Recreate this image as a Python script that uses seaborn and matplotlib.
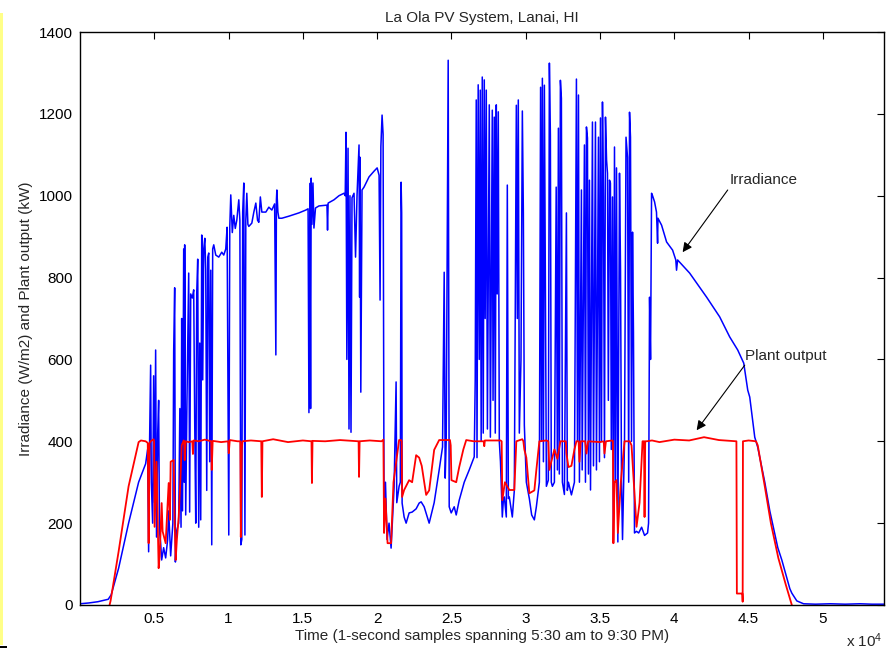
import numpy as np
import pandas as pd
import matplotlib
matplotlib.use("Agg")
import matplotlib.pyplot as plt
import seaborn as sns
from matplotlib.patches import Rectangle

# irradiance (W/m2) vs time (s)
irr_t = [0, 600, 1200, 1900, 2100, 2600, 3270, 3945, 4417, 4550, 4619, 4680, 4754, 4800, 4890, 4956,
         5020, 5091, 5150, 5230, 5293, 5350, 5430, 5496, 5630, 5765, 5900, 5968, 6102, 6250, 6305, 6372,
         6420, 6500, 6642, 6720, 6800, 6844, 6900, 6979, 7020, 7046, 7114, 7200, 7316, 7380, 7451, 7560,
         7653, 7720, 7790, 7856, 7923, 7990, 8060, 8125, 8193, 8260, 8328, 8400, 8463, 8530, 8600, 8665,
         8730, 8800, 8867, 8930, 9002, 9137, 9339, 9541, 9676, 9811, 9900, 10013, 10080, 10148, 10250, 10350,
         10450, 10553, 10688, 10760, 10823, 10890, 10950, 11025, 11100, 11160, 11227, 11300, 11362, 11564, 11700, 11834,
         11950, 12036, 12138, 12238, 12508, 12710, 12913, 13100, 13182, 13220, 13250, 13320, 13385, 13587, 14059, 14733,
         15200, 15350, 15408, 15470, 15520, 15560, 15610, 15680, 15745, 15850, 16082, 16622, 16660, 16700, 17094, 17431,
         17768, 17850, 17903, 17960, 18040, 18105, 18170, 18240, 18308, 18443, 18545, 18645, 18780, 18820, 18847, 18900,
         18982, 19117, 19454, 19791, 20000, 20129, 20196, 20250, 20331, 20400, 20466, 20560, 20668, 20800, 20938, 21050,
         21140, 21275, 21320, 21477, 21560, 21612, 21650, 21680, 21815, 21950, 22152, 22354, 22624, 22826, 22961, 23163,
         23500, 23837, 24174, 24400, 24512, 24580, 24647, 24781, 24849, 24984, 25186, 25321, 25523, 25860, 26197, 26534,
         26600, 26669, 26720, 26800, 26872, 26940, 27000, 27074, 27140, 27209, 27270, 27344, 27420, 27546, 27620, 27749,
         27800, 27883, 27950, 28018, 28080, 28153, 28221, 28300, 28423, 28500, 28558, 28693, 28760, 28830, 28895, 29097,
         29232, 29367, 29434, 29500, 29569, 29680, 29772, 29840, 29906, 30041, 30243, 30400, 30580, 30715, 30917, 31000,
         31060, 31120, 31190, 31255, 31390, 31520, 31592, 31659, 31720, 31794, 31929, 32050, 32131, 32198, 32260, 32333,
         32400, 32468, 32603, 32738, 32800, 32873, 33075, 33277, 33412, 33480, 33550, 33614, 33749, 33800, 33951, 34020,
         34086, 34154, 34221, 34288, 34360, 34490, 34560, 34693, 34760, 34895, 34962, 35030, 35100, 35165, 35232, 35300,
         35367, 35440, 35502, 35560, 35637, 35700, 35760, 35839, 35900, 35974, 36040, 36109, 36200, 36311, 36380, 36446,
         36514, 36648, 36750, 36851, 36930, 36986, 37050, 37120, 37188, 37250, 37320, 37458, 37600, 37800, 37997, 38200,
         38267, 38334, 38400, 38469, 38536, 38671, 38800, 38874, 38900, 39143, 39480, 39885, 40100, 40150, 40222, 41031,
         42177, 43054, 43728, 44268, 44672, 44942, 45077, 45414, 45617, 46089, 46426, 46965, 47235, 47774, 47909, 48246,
         48700, 49500, 50500, 51500, 52500, 53300, 54113]
irr_w = [3, 5, 8, 14, 25, 90, 200, 300, 345, 380, 130, 390, 586, 300, 200, 560,
         250, 623, 166, 420, 500, 180, 150, 110, 140, 115, 160, 230, 120, 200, 620, 775,
         105, 180, 200, 480, 190, 700, 230, 870, 300, 880, 220, 500, 811, 227, 760, 750,
         770, 450, 200, 760, 845, 190, 640, 208, 904, 550, 870, 896, 820, 280, 850, 860,
         350, 818, 147, 870, 880, 855, 850, 862, 855, 870, 923, 171, 923, 1002, 910, 952,
         920, 940, 990, 940, 147, 160, 960, 1031, 171, 940, 1006, 930, 925, 933, 960, 982,
         940, 935, 997, 960, 960, 972, 965, 980, 611, 990, 1014, 960, 945, 945, 950, 958,
         965, 968, 470, 1030, 480, 1043, 930, 1031, 921, 970, 975, 977, 916, 982, 990, 1000,
         1006, 1000, 1155, 600, 1116, 430, 1000, 422, 995, 1006, 850, 1000, 1124, 752, 1094, 520,
         1014, 1021, 1046, 1060, 1068, 1050, 745, 1120, 1197, 1150, 191, 300, 160, 200, 139, 220,
         288, 545, 250, 290, 300, 1033, 958, 249, 215, 200, 225, 227, 235, 249, 252, 240,
         200, 250, 330, 386, 813, 310, 400, 1331, 240, 225, 240, 220, 256, 300, 330, 362,
         550, 1234, 360, 1271, 600, 1258, 400, 1290, 420, 1283, 700, 1258, 430, 1222, 410, 1209,
         500, 1192, 420, 1222, 760, 1205, 400, 350, 215, 260, 264, 215, 1026, 260, 264, 215,
         280, 1221, 700, 1234, 420, 600, 1207, 958, 440, 300, 260, 220, 208, 240, 300, 1265,
         400, 1287, 350, 1270, 290, 305, 1324, 1148, 300, 290, 300, 1021, 330, 1165, 320, 1282,
         1238, 300, 270, 958, 280, 300, 269, 300, 1285, 400, 1246, 300, 1014, 330, 1124, 300,
         1168, 1141, 320, 1038, 281, 1180, 340, 1180, 330, 1143, 350, 1190, 400, 1229, 997, 360,
         1192, 1087, 1055, 500, 1038, 1031, 380, 997, 151, 1119, 300, 1068, 154, 1055, 818, 300,
         160, 400, 1143, 1094, 300, 1204, 1143, 400, 911, 667, 176, 180, 176, 190, 170, 176,
         200, 752, 600, 1006, 1000, 985, 960, 884, 945, 928, 887, 867, 843, 818, 843, 811,
         752, 704, 655, 623, 591, 525, 508, 410, 385, 300, 230, 140, 110, 40, 29, 10,
         3, 2, 3, 2, 3, 2, 2]

# plant output (kW) vs time (s)
out_t = [1990, 2057, 2596, 3270, 3945, 4100, 4417, 4560, 4619, 4680, 4754, 4956, 4990, 5020, 5150, 5293,
         5360, 5496, 5560, 5765, 5900, 5968, 6050, 6102, 6305, 6372, 6440, 6520, 6642, 6750, 6844, 6979,
         7010, 7046, 7114, 7316, 7560, 7600, 7650, 7990, 8400, 8830, 8867, 8930, 9500, 9980, 10013, 10080,
         10600, 10790, 10823, 10890, 10930, 11500, 12200, 12238, 12280, 13000, 14000, 15000, 15580, 15610, 15650, 16500,
         17500, 18750, 18780, 18820, 19500, 20300, 20420, 20466, 20560, 20700, 20938, 21100, 21477, 21612, 21650, 21680,
         21815, 22152, 22354, 22624, 22826, 23000, 23298, 23500, 23837, 24174, 24900, 24950, 25000, 25321, 25523, 25800,
         25995, 26500, 27170, 27209, 27250, 28300, 28380, 28423, 28600, 28895, 29232, 29367, 29772, 29840, 29906, 30041,
         30243, 30580, 30715, 30917, 31390, 31520, 31592, 31720, 31929, 32131, 32333, 32700, 32738, 32873, 33075, 33277,
         33412, 33560, 33614, 33700, 34000, 34086, 34200, 35000, 35250, 35300, 35400, 35839, 35870, 35900, 35974, 36109,
         36200, 36400, 36648, 37000, 37120, 37458, 37660, 37862, 37960, 37997, 38040, 38132, 38500, 39000, 40000, 41000,
         42000, 43000, 44180, 44210, 44580, 44600, 44620, 45000, 45500, 45617, 46089, 46500, 47000, 47500, 47909]
out_kw = [0, 10, 130, 290, 398, 402, 400, 396, 151, 395, 400, 405, 400, 191, 350, 90,
          120, 249, 180, 151, 250, 298, 208, 350, 354, 200, 110, 160, 215, 300, 390, 402,
          400, 354, 400, 398, 400, 369, 402, 400, 404, 400, 330, 401, 398, 400, 371, 403,
          400, 400, 166, 380, 400, 402, 400, 264, 400, 405, 398, 402, 400, 298, 401, 400,
          403, 400, 313, 400, 402, 400, 404, 176, 260, 151, 151, 300, 403, 403, 400, 264,
          281, 305, 300, 366, 360, 340, 269, 280, 379, 403, 403, 390, 305, 300, 337, 380,
          403, 400, 400, 388, 402, 402, 400, 256, 300, 281, 281, 400, 405, 400, 380, 360,
          273, 280, 330, 400, 402, 400, 330, 350, 380, 357, 400, 400, 371, 337, 340, 380,
          400, 400, 350, 400, 400, 370, 400, 398, 400, 370, 400, 402, 400, 151, 300, 305,
          176, 300, 400, 400, 390, 191, 250, 400, 400, 215, 400, 400, 402, 398, 404, 402,
          410, 403, 400, 28, 28, 8, 400, 402, 400, 390, 290, 200, 115, 50, 0]

xtick_pos = [5000, 10000, 15000, 20000, 25000, 30000, 35000, 40000, 45000, 50000]
xtick_labels = ["0.5", "1", "1.5", "2", "2.5", "3", "3.5", "4", "4.5", "5"]
ytick_pos = [0, 200, 400, 600, 800, 1000, 1200, 1400]

irr_df = pd.DataFrame({"t": irr_t, "w": irr_w})
out_df = pd.DataFrame({"t": out_t, "kw": out_kw})

sns.set_style("white")
plt.rcParams["font.family"] = ["Liberation Sans", "DejaVu Sans"]
plt.rcParams["mathtext.default"] = "regular"

fig = plt.figure(figsize=(8.94, 6.5), dpi=100)
ax = fig.add_axes([80 / 894, 45 / 650, 804 / 894, 573 / 650])

sns.lineplot(data=irr_df, x="t", y="w", color="#0000FF", lw=1.1,
             estimator=None, sort=False, ax=ax)
sns.lineplot(data=out_df, x="t", y="kw", color="#FF0000", lw=1.3,
             estimator=None, sort=False, ax=ax)

ax.set_xlim(0, 54113)
ax.set_ylim(0, 1400)
ax.set_xticks(xtick_pos, xtick_labels)
ax.set_yticks(ytick_pos)
ax.tick_params(direction="in", length=5, width=0.8, top=True, right=True,
               labelsize=11, colors="black", pad=5)
for s in ax.spines.values():
    s.set_color("black")
    s.set_linewidth(1.0)

ax.set_title("La Ola PV System, Lanai, HI", fontsize=11, pad=7)
ax.set_xlabel("Time (1-second samples spanning 5:30 am to 9:30 PM)", fontsize=11, labelpad=2)
ax.set_ylabel("Irradiance (W/m2) and Plant output (kW)", fontsize=11, labelpad=4)

# annotations
arrow = dict(arrowstyle="-|>", color="black", lw=0.8, mutation_scale=14, shrinkA=0, shrinkB=0)
ax.annotate("", xy=(40560, 862), xytext=(43594, 1014), arrowprops=arrow)
ax.text(43729, 1038, "Irradiance", fontsize=11, ha="left", va="center")
ax.annotate("", xy=(41503, 427), xytext=(44740, 586), arrowprops=arrow)
ax.text(44740, 608, "Plant output", fontsize=11, ha="left", va="center")

fig.text(882 / 894, 1 - 641 / 650, "x 10$^4$", fontsize=11, ha="right", va="center")

# screenshot edge artifacts
fig.patches.append(Rectangle((0, 5 / 650), 3 / 894, 632 / 650, transform=fig.transFigure,
                             facecolor="#FFFF88", edgecolor="none"))
fig.patches.append(Rectangle((0, 2 / 650), 7 / 894, 2 / 650, transform=fig.transFigure,
                             facecolor="black", edgecolor="none"))

fig.savefig("out.png", dpi=100)
